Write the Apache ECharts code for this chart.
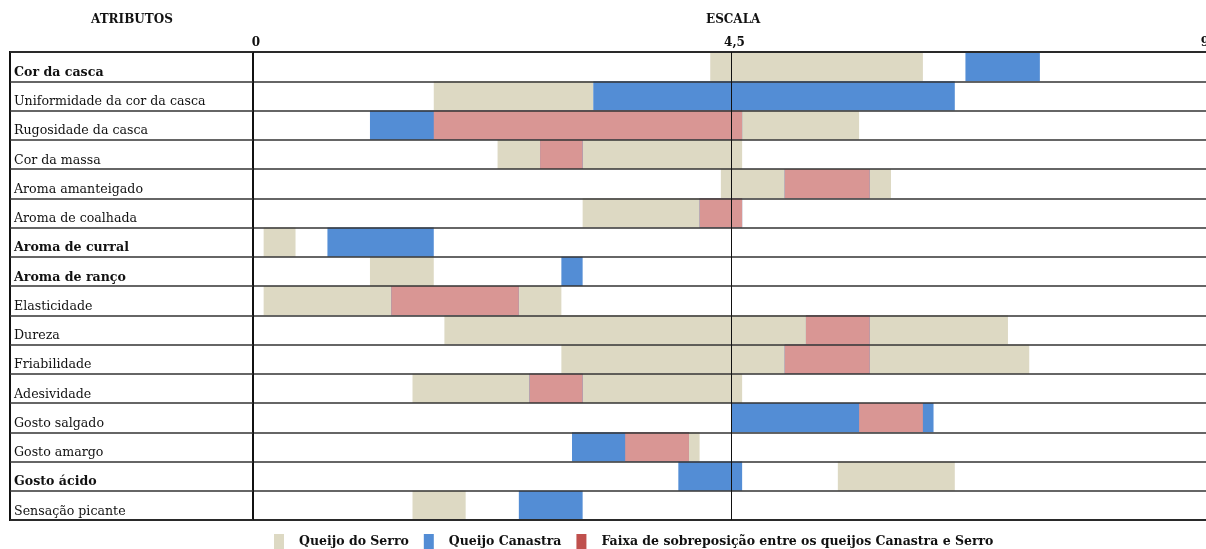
<!DOCTYPE html>
<html>
<head>
<meta charset="utf-8">
<script src="https://cdn.jsdelivr.net/npm/echarts@6/dist/echarts.min.js"></script>
<style>
  html, body { margin: 0; padding: 0; background: #fff; }
  #chart { width: 1206px; height: 549px; }
</style>
</head>
<body>
<div id="chart"></div>
<script>
// Sensory attributes (rows, top to bottom)
const attributes = [
  'Cor da casca', 'Uniformidade da cor da casca', 'Rugosidade da casca', 'Cor da massa',
  'Aroma amanteigado', 'Aroma de coalhada', 'Aroma de curral', 'Aroma de ranço',
  'Elasticidade', 'Dureza', 'Friabilidade', 'Adesividade',
  'Gosto salgado', 'Gosto amargo', 'Gosto ácido', 'Sensação picante'
];
const boldAttributes = ['Cor da casca', 'Aroma de curral', 'Aroma de ranço', 'Gosto ácido'];

// Score ranges [min, max] on the 0–9 scale
const serroRanges = [
  [4.3, 6.3], [1.7, 3.2], [1.7, 5.7], [2.3, 4.6],
  [4.4, 6.0], [3.1, 4.6], [0.1, 0.4], [1.1, 1.7],
  [0.1, 2.9], [1.8, 7.1], [2.9, 7.3], [1.5, 4.6],
  [5.7, 6.3], [3.5, 4.2], [5.5, 6.6], [1.5, 2.0]
];
const canastraRanges = [
  [6.7, 7.4], [3.2, 6.6], [1.1, 4.6], [2.7, 3.1],
  [5.0, 5.8], [4.2, 4.6], [0.7, 1.7], [2.9, 3.1],
  [1.3, 2.5], [5.2, 5.8], [5.0, 5.8], [2.6, 3.1],
  [4.5, 6.4], [3.0, 4.1], [4.0, 4.6], [2.5, 3.1]
];
const scaleMin = 0, scaleMax = 9, scaleStep = 4.5;

const seriesNames = ['Queijo do Serro', 'Queijo Canastra', 'Faixa de sobreposição entre os queijos Canastra e Serro'];

// Overlap band = intersection of both cheeses' ranges
const overlapRanges = serroRanges.map((s, i) => {
  const c = canastraRanges[i];
  const lo = Math.max(s[0], c[0]), hi = Math.min(s[1], c[1]);
  return hi > lo ? [lo, hi] : null;
});

const toRows = ranges => ranges
  .map((r, i) => r ? [i, r[0], r[1]] : null)
  .filter(Boolean);

const FONT = '"DejaVu Serif", "Liberation Serif", serif';
const scaleLabelStyle = { fontFamily: FONT, fontSize: 12, fontWeight: 'bold', color: '#111' };

function rangeRenderer(fill) {
  return function (params, api) {
    const row = api.value(0);
    const a = api.coord([api.value(1), row]);
    const b = api.coord([api.value(2), row]);
    const band = api.size([0, 1])[1];
    return {
      type: 'rect',
      shape: { x: a[0], y: a[1] - band / 2, width: b[0] - a[0], height: band },
      style: { fill: fill }
    };
  };
}

const chart = echarts.init(document.getElementById('chart'), null, { renderer: 'canvas' });

chart.setOption({
  animation: false,
  backgroundColor: '#fff',
  title: [
    { text: 'ATRIBUTOS', left: 91, top: 14, padding: 0, textStyle: { fontFamily: FONT, fontSize: 12, fontWeight: 'bold', color: '#111' } },
    { text: 'ESCALA', left: 706, top: 14, padding: 0, textStyle: { fontFamily: FONT, fontSize: 12, fontWeight: 'bold', color: '#111' } }
  ],
  legend: {
    left: 274, top: 534, padding: 0,
    itemWidth: 10, itemHeight: 15, itemGap: 15,
    icon: 'rect',
    textStyle: { fontFamily: FONT, fontSize: 12.5, fontWeight: 'bold', color: '#111', padding: [0, 0, 0, 10] },
    data: [
      { name: seriesNames[0], itemStyle: { color: '#DDD9C3' } },
      { name: seriesNames[1], itemStyle: { color: '#538DD5' } },
      { name: seriesNames[2], itemStyle: { color: '#C0504D' } }
    ]
  },
  grid: [
    { left: 10, top: 52, width: 243, height: 468, outerBoundsMode: 'none', show: true, borderColor: '#111', borderWidth: 2, z: 5 },
    { left: 253, top: 52, width: 957, height: 468, outerBoundsMode: 'none', show: true, borderColor: '#111', borderWidth: 2, z: 5 }
  ],
  xAxis: [
    { gridIndex: 0, type: 'value', show: false, min: 0, max: 1 },
    {
      gridIndex: 1, type: 'value', position: 'top', z: 5,
      min: scaleMin, max: scaleMax, interval: scaleStep,
      axisLine: { show: false }, axisTick: { show: false },
      axisLabel: Object.assign({
        margin: 3, padding: [0, 0, 0, 6],
        showMaxLabel: true,
        // the last label sits against the right edge of the table
        formatter: v => v === scaleMax ? '{last|' + v + '}' : String(v).replace('.', ','),
        rich: { last: Object.assign({ padding: [0, 16, 0, 0] }, scaleLabelStyle) }
      }, scaleLabelStyle),
      splitLine: { show: true, lineStyle: { color: '#111', width: 1 } }
    }
  ],
  yAxis: [
    {
      gridIndex: 0, type: 'category', data: attributes, inverse: true, z: 5,
      axisLine: { show: false }, axisTick: { show: false },
      axisLabel: {
        inside: true, align: 'left', margin: 4, interval: 0,
        padding: [12, 0, 0, 0],
        fontFamily: FONT, fontSize: 12.6, color: '#111',
        formatter: v => boldAttributes.includes(v) ? '{b|' + v + '}' : v,
        rich: { b: { fontFamily: FONT, fontSize: 12.6, fontWeight: 'bold', color: '#111' } }
      },
      splitLine: { show: true, interval: 0, lineStyle: { color: '#333', width: 1.5 } }
    },
    {
      gridIndex: 1, type: 'category', data: attributes, inverse: true, z: 5,
      axisLine: { show: false }, axisTick: { show: false }, axisLabel: { show: false },
      splitLine: { show: true, interval: 0, lineStyle: { color: '#333', width: 1.5 } }
    }
  ],
  series: [
    {
      name: seriesNames[0], type: 'custom', xAxisIndex: 1, yAxisIndex: 1,
      renderItem: rangeRenderer('#DDD9C3'), encode: { x: [1, 2], y: 0 },
      itemStyle: { color: '#DDD9C3' }, data: toRows(serroRanges)
    },
    {
      name: seriesNames[1], type: 'custom', xAxisIndex: 1, yAxisIndex: 1,
      renderItem: rangeRenderer('#538DD5'), encode: { x: [1, 2], y: 0 },
      itemStyle: { color: '#538DD5' }, data: toRows(canastraRanges)
    },
    {
      name: seriesNames[2], type: 'custom', xAxisIndex: 1, yAxisIndex: 1,
      renderItem: rangeRenderer('#D99694'), encode: { x: [1, 2], y: 0 },
      itemStyle: { color: '#C0504D' }, data: toRows(overlapRanges)
    }
  ]
});
</script>
</body>
</html>
